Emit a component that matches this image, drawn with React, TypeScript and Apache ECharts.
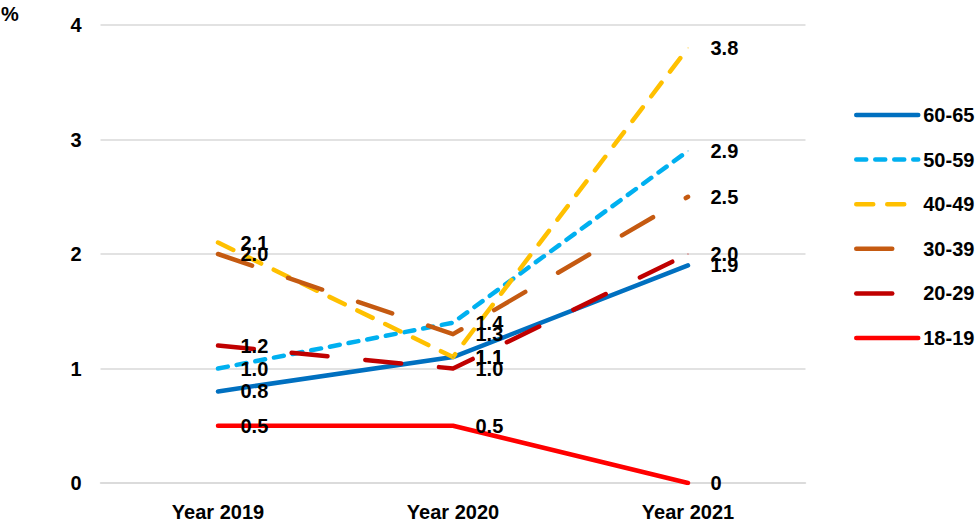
import React, { useEffect, useRef } from "react";
import * as echarts from "echarts";

const categories = ["Year 2019", "Year 2020", "Year 2021"];
const seriesNames = ["60-65", "50-59", "40-49", "30-39", "20-29", "18-19"];
const values6065 = [0.8, 1.1, 1.9];
const values5059 = [1.0, 1.4, 2.9];
const values4049 = [2.1, 1.1, 3.8];
const values3039 = [2.0, 1.3, 2.5];
const values2029 = [1.2, 1.0, 2.0];
const values1819 = [0.5, 0.5, 0];
const yTicks = [0, 1, 2, 3, 4];

const FONT = "'Liberation Sans', Arial, sans-serif";
const FONT_SIZE = 20;

const styles: Record<string, { color: string; dash: number[] | "solid" }> = {
  "60-65": { color: "#0070C0", dash: "solid" },
  "50-59": { color: "#00B0F0", dash: [10, 9] },
  "40-49": { color: "#FFC000", dash: [17, 14] },
  "30-39": { color: "#C55A11", dash: [36, 38] },
  "20-29": { color: "#C00000", dash: [36, 38] },
  "18-19": { color: "#FF0000", dash: "solid" },
};

export default function App() {
  const ref = useRef<HTMLDivElement>(null);

  useEffect(() => {
    if (!ref.current) return;
    const chart = echarts.init(ref.current, undefined, { renderer: "svg" });
    const allValues = [values6065, values5059, values4049, values3039, values2029, values1819];

    const series = seriesNames.map((name, i) => {
      const st = styles[name];
      return {
        name,
        type: "line",
        data: allValues[i],
        symbol: "circle",
        symbolSize: 1,
        showSymbol: true,
        itemStyle: { color: st.color },
        lineStyle: {
          color: st.color,
          width: 4.5,
          type: st.dash,
          cap: "round",
          join: "round",
        },
        label: {
          show: true,
          position: "right",
          distance: 22,
          color: "#000",
          fontFamily: FONT,
          fontWeight: "bold",
          fontSize: FONT_SIZE,
          formatter: (p: any) => (p.value === 0 ? "0" : Number(p.value).toFixed(1)),
        },
        emphasis: { disabled: true },
      };
    });

    chart.setOption({
      animation: false,
      grid: { left: 100.5, right: 169.5, top: 25, bottom: 38 },
      graphic: [
        {
          type: "text",
          left: 1,
          top: 4,
          style: {
            text: "%",
            fill: "#000",
            font: `bold ${FONT_SIZE}px ${FONT}`,
          },
        },
      ],
      legend: {
        orient: "vertical",
        left: 849,
        top: 100,
        padding: 5,
        itemWidth: 62,
        itemHeight: 16,
        itemGap: 24.6,
        itemStyle: { opacity: 0 },
        lineStyle: { width: 4.5, cap: "round" },
        textStyle: {
          color: "#000",
          fontFamily: FONT,
          fontWeight: "bold",
          fontSize: FONT_SIZE,
        },
        data: seriesNames,
      },
      xAxis: {
        type: "category",
        data: categories,
        boundaryGap: true,
        axisLine: { show: true, lineStyle: { color: "#d9d9d9", width: 1.5 } },
        axisTick: { show: false },
        axisLabel: {
          color: "#000",
          fontFamily: FONT,
          fontWeight: "bold",
          fontSize: FONT_SIZE,
          margin: 19,
        },
      },
      yAxis: {
        type: "value",
        min: yTicks[0],
        max: yTicks[yTicks.length - 1],
        interval: 1,
        axisLine: { show: false },
        axisTick: { show: false },
        splitLine: { lineStyle: { color: "#d9d9d9", width: 1.5 } },
        axisLabel: {
          color: "#000",
          fontFamily: FONT,
          fontWeight: "bold",
          fontSize: FONT_SIZE,
          margin: 19,
        },
      },
      series,
    });

    return () => chart.dispose();
  }, []);

  return (
    <div
      ref={ref}
      style={{ position: "fixed", left: 0, top: 0, width: 975, height: 522, background: "#fff" }}
    />
  );
}
